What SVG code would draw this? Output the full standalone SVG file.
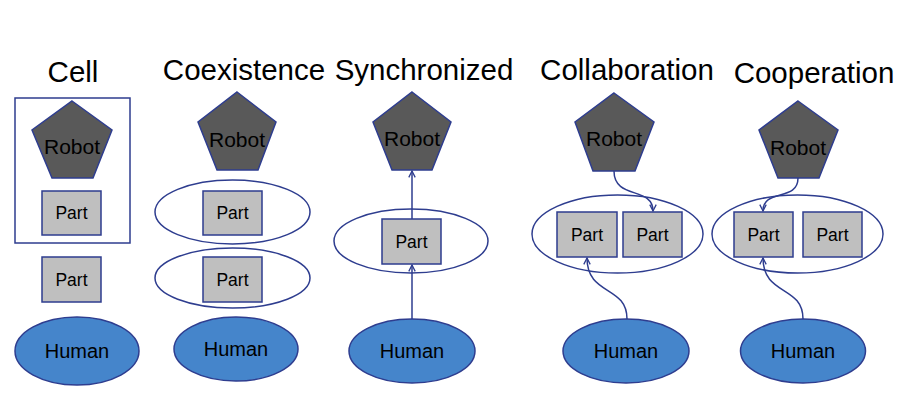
<svg xmlns="http://www.w3.org/2000/svg" width="912" height="418" viewBox="0 0 912 418">
<defs>
<style>
.t{font-family:"Liberation Sans",Arial,sans-serif;font-size:29.5px;fill:#000;text-anchor:middle}
.r{fill:#595959;stroke:#2E3D8F;stroke-width:1.5}
.rt{font-family:"Liberation Sans",Arial,sans-serif;font-size:21px;fill:#000;text-anchor:middle}
.p{fill:#BFBFBF;stroke:#2E3D8F;stroke-width:1.5}
.pt{font-family:"Liberation Sans",Arial,sans-serif;font-size:17.5px;fill:#000;text-anchor:middle}
.h{fill:#4585CB;stroke:#2E3D8F;stroke-width:1.5}
.ht{font-family:"Liberation Sans",Arial,sans-serif;font-size:20px;fill:#000;text-anchor:middle}
.g{fill:none;stroke:#2E3D8F;stroke-width:1.5}
.c{fill:none;stroke:#2E3D8F;stroke-width:1.5;marker-end:url(#a)}
</style>
<marker id="a" viewBox="0 0 10 10" refX="9" refY="5" markerWidth="8" markerHeight="8" markerUnits="userSpaceOnUse" orient="auto">
<path d="M1,1 L9,5 L1,9" fill="none" stroke="#2E3D8F" stroke-width="1.6"/>
</marker>
</defs>
<rect width="912" height="418" fill="#fff"/>

<g id="titles">
<text class="t" x="73" y="82">Cell</text>
<text class="t" x="244" y="80">Coexistence</text>
<text class="t" x="424" y="80">Synchronized</text>
<text class="t" x="627" y="80">Collaboration</text>
<text class="t" x="814" y="83">Cooperation</text>
</g>

<!-- Cell -->
<g id="cell-box"><rect class="g" x="15" y="98" width="115" height="145"/></g>
<g id="cell-robot"><polygon class="r" points="72,101 112,130 93,178 52,178 32,130"/><text class="rt" x="72" y="154">Robot</text></g>
<g id="cell-part1"><rect class="p" x="42" y="191" width="59" height="44"/><text class="pt" x="71.5" y="219">Part</text></g>
<g id="cell-part2"><rect class="p" x="42" y="257" width="59" height="45"/><text class="pt" x="71.5" y="286">Part</text></g>
<g id="cell-human"><ellipse class="h" cx="77" cy="351" rx="62" ry="34"/><text class="ht" x="77" y="358">Human</text></g>

<!-- Coexistence -->
<g id="coex-robot"><polygon class="r" points="237,92 276,122 258,170 217,170 198,122"/><text class="rt" x="237" y="147">Robot</text></g>
<g id="coex-zone1"><ellipse class="g" cx="232.5" cy="212" rx="77.5" ry="32"/></g>
<g id="coex-part1"><rect class="p" x="203" y="191" width="59" height="44"/><text class="pt" x="232.5" y="219">Part</text></g>
<g id="coex-zone2"><ellipse class="g" cx="232.5" cy="278" rx="77.5" ry="30"/></g>
<g id="coex-part2"><rect class="p" x="203" y="257" width="59" height="45"/><text class="pt" x="232.5" y="286">Part</text></g>
<g id="coex-human"><ellipse class="h" cx="236" cy="349" rx="62" ry="32"/><text class="ht" x="236" y="356">Human</text></g>

<!-- Synchronized -->
<g id="sync-robot"><polygon class="r" points="412,92 451,122 432,170 392,170 373,122"/><text class="rt" x="412" y="146">Robot</text></g>
<g id="sync-zone"><ellipse class="g" cx="411" cy="241" rx="77" ry="32"/></g>
<g id="sync-part"><rect class="p" x="382" y="219" width="59" height="45"/><text class="pt" x="411.5" y="248">Part</text></g>
<g id="sync-human"><ellipse class="h" cx="412" cy="351" rx="63" ry="32"/><text class="ht" x="412" y="358">Human</text></g>

<!-- Collaboration -->
<g id="collab-robot"><polygon class="r" points="614,93 654,122 635,171 593,171 575,122"/><text class="rt" x="614" y="146">Robot</text></g>
<g id="collab-zone"><ellipse class="g" cx="617.5" cy="234" rx="85.5" ry="39"/></g>
<g id="collab-part1"><rect class="p" x="557" y="212" width="60" height="45"/><text class="pt" x="587" y="241">Part</text></g>
<g id="collab-part2"><rect class="p" x="623" y="212" width="59" height="45"/><text class="pt" x="652.5" y="241">Part</text></g>
<g id="collab-human"><ellipse class="h" cx="626" cy="351" rx="63" ry="32"/><text class="ht" x="626" y="358">Human</text></g>

<!-- Cooperation -->
<g id="coop-robot"><polygon class="r" points="798,101 838,130 819,178 778,178 759,130"/><text class="rt" x="798" y="155">Robot</text></g>
<g id="coop-zone"><ellipse class="g" cx="797.5" cy="234" rx="85.5" ry="39"/></g>
<g id="coop-part1"><rect class="p" x="734" y="212" width="59" height="45"/><text class="pt" x="763.5" y="241">Part</text></g>
<g id="coop-part2"><rect class="p" x="803" y="212" width="59" height="45"/><text class="pt" x="832.5" y="241">Part</text></g>
<g id="coop-human"><ellipse class="h" cx="803" cy="351" rx="62.5" ry="32"/><text class="ht" x="803" y="358">Human</text></g>

<g id="connectors">
<path class="c" d="M412,219 L412,171"/>
<path class="c" d="M412,319 L412,265"/>
<path class="c" d="M614,171 C614,200 653,186 653,211"/>
<path class="c" d="M627,319 C627,285 587,296 587,258"/>
<path class="c" d="M798,178 C798,202 763,188 763,211"/>
<path class="c" d="M803,319 C803,285 763,296 763,258"/>
</g>
</svg>
